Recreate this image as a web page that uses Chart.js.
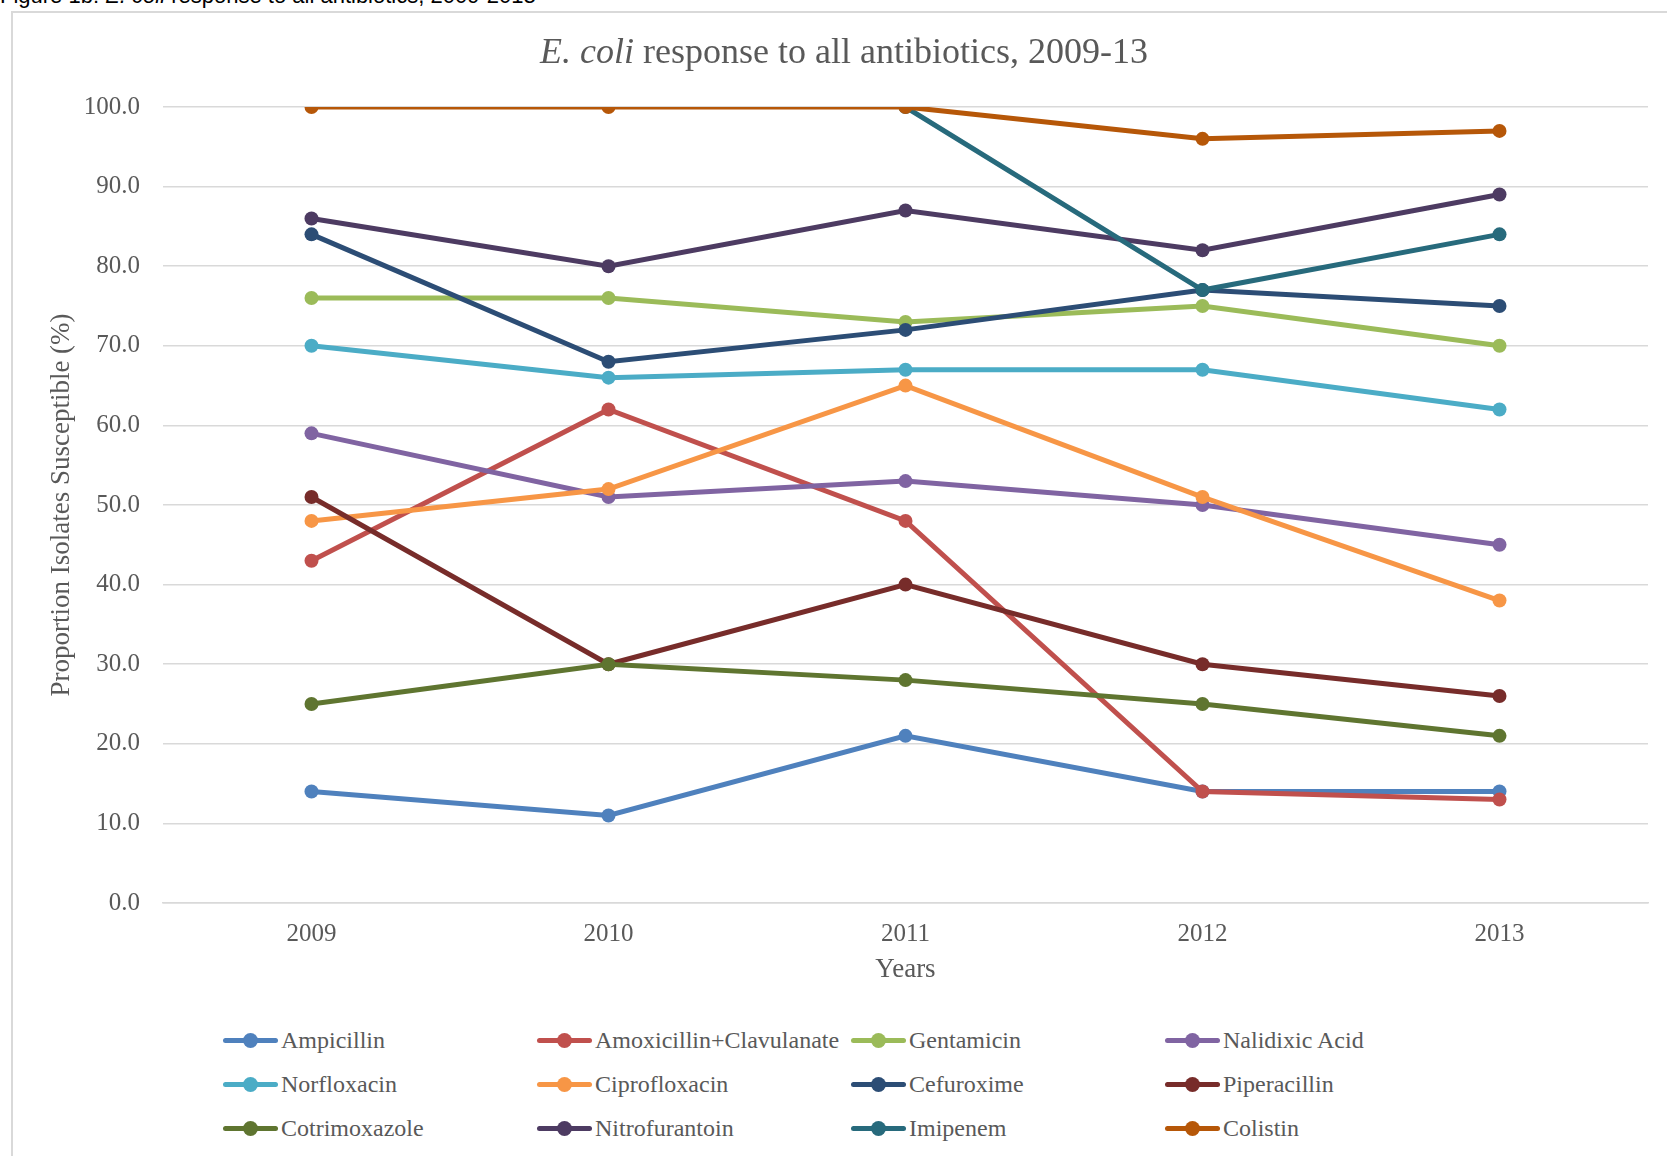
<!DOCTYPE html>
<html>
<head>
<meta charset="utf-8">
<script src="https://cdn.jsdelivr.net/npm/chart.js@4"></script>
<style>
  html, body { margin: 0; padding: 0; background: #fff; }
  body { width: 1667px; height: 1156px; position: relative; overflow: hidden; }
  #caption {
    position: absolute; left: 0; top: -15px;
    font: 22px "Liberation Sans Narrow", "Liberation Sans", sans-serif;
    line-height: 22px; color: #000; white-space: nowrap;
  }
  #frame {
    position: absolute; left: 11px; top: 11px; width: 1700px; height: 1200px;
    border: 2px solid #d9d9d9; box-sizing: border-box;
  }
  #wrap { position: absolute; left: 0; top: 0; width: 1667px; height: 1000px; }
  #title {
    position: absolute; left: 0; top: 31px; width: 1688px; text-align: center;
    font: 36px "Liberation Serif", serif; line-height: 40px; color: #595959;
  }
  #legend {
    position: absolute; left: 223px; top: 1018px;
    display: grid; grid-template-columns: repeat(4, 314px); grid-auto-rows: 44px;
    font: 24px "Liberation Serif", serif; color: #595959;
  }
  .item { display: flex; align-items: center; white-space: nowrap; }
  .swatch { position: relative; width: 55px; height: 5px; border-radius: 3px; margin-right: 3px; flex: none; }
  .swatch i { position: absolute; left: 20px; top: -5px; width: 15px; height: 15px; border-radius: 50%; }
</style>
</head>
<body>
<div id="caption">Figure 1b: <i>E. coli</i> response to all antibiotics, 2009-2013</div>
<div id="frame"></div>
<div id="wrap"><canvas id="lineChart"></canvas></div>
<div id="title"><i>E. coli</i> response to all antibiotics, 2009-13</div>
<div id="legend"></div>
<script>
const years = ["2009", "2010", "2011", "2012", "2013"];

const ampicillin     = [14, 11, 21, 14, 14];
const amoxClav       = [43, 62, 48, 14, 13];
const gentamicin     = [76, 76, 73, 75, 70];
const nalidixicAcid  = [59, 51, 53, 50, 45];
const norfloxacin    = [70, 66, 67, 67, 62];
const ciprofloxacin  = [48, 52, 65, 51, 38];
const cefuroxime     = [84, 68, 72, 77, 75];
const piperacillin   = [51, 30, 40, 30, 26];
const cotrimoxazole  = [25, 30, 28, 25, 21];
const nitrofurantoin = [86, 80, 87, 82, 89];
const imipenem       = [null, null, 100, 77, 84];
const colistin       = [100, 100, 100, 96, 97];

const yTicks = [0, 10, 20, 30, 40, 50, 60, 70, 80, 90, 100];

const series = [
  ["Ampicillin", ampicillin, "#4F81BD"],
  ["Amoxicillin+Clavulanate", amoxClav, "#C0504D"],
  ["Gentamicin", gentamicin, "#9BBB59"],
  ["Nalidixic Acid", nalidixicAcid, "#8064A2"],
  ["Norfloxacin", norfloxacin, "#4BACC6"],
  ["Ciprofloxacin", ciprofloxacin, "#F79646"],
  ["Cefuroxime", cefuroxime, "#2C4D75"],
  ["Piperacillin", piperacillin, "#772C2A"],
  ["Cotrimoxazole", cotrimoxazole, "#5F7530"],
  ["Nitrofurantoin", nitrofurantoin, "#4D3B62"],
  ["Imipenem", imipenem, "#276A7C"],
  ["Colistin", colistin, "#B65708"],
];

const serif = "'Liberation Serif', serif";
const grey = "#595959";

const datasets = series.map(([label, data, color], i) => ({
  label: label,
  data: data,
  borderColor: color,
  backgroundColor: color,
  borderWidth: 5,
  pointRadius: 7,
  pointHoverRadius: 7,
  pointBorderWidth: 0,
  fill: false,
  spanGaps: false,
  order: -i, // later series sit on top, like the original workbook
}));

const chart = new Chart(document.getElementById("lineChart"), {
  type: "line",
  data: { labels: years, datasets: datasets },
  options: {
    responsive: true,
    maintainAspectRatio: false,
    animation: false,
    layout: { padding: { left: 42, right: 19, top: 107, bottom: 14 } },
    plugins: {
      legend: { display: false },
      tooltip: { enabled: false },
    },
    scales: {
      x: {
        offset: true,
        grid: { display: false, drawTicks: false },
        border: { display: true, color: "#d9d9d9", width: 1.5 },
        ticks: { color: grey, font: { family: serif, size: 25 }, padding: 16 },
        title: {
          display: true, text: "Years", color: grey,
          font: { family: serif, size: 27 }, padding: { top: 8, bottom: 0 },
        },
        afterFit: (s) => { s.height = 83; },
      },
      y: {
        min: 0,
        max: 100,
        afterBuildTicks: (s) => { s.ticks = yTicks.map((v) => ({ value: v })); },
        grid: { color: "#d9d9d9", lineWidth: 1.5, drawTicks: false },
        border: { display: false },
        ticks: {
          color: grey, font: { family: serif, size: 25 }, padding: 23,
          callback: (v) => Number(v).toFixed(1),
        },
        title: {
          display: true, text: "Proportion Isolates Susceptible (%)", color: grey,
          font: { family: serif, size: 27 }, padding: { top: 4, bottom: 4 },
        },
        afterFit: (s) => { s.width = 121; },
      },
    },
  },
});

// legend laid out in four fixed columns, built from the chart's datasets
const legendBox = document.getElementById("legend");
chart.data.datasets.forEach((ds) => {
  const item = document.createElement("div");
  item.className = "item";
  const sw = document.createElement("span");
  sw.className = "swatch";
  sw.style.background = ds.borderColor;
  const dot = document.createElement("i");
  dot.style.background = ds.borderColor;
  sw.appendChild(dot);
  item.appendChild(sw);
  item.appendChild(document.createTextNode(ds.label));
  legendBox.appendChild(item);
});
</script>
</body>
</html>
